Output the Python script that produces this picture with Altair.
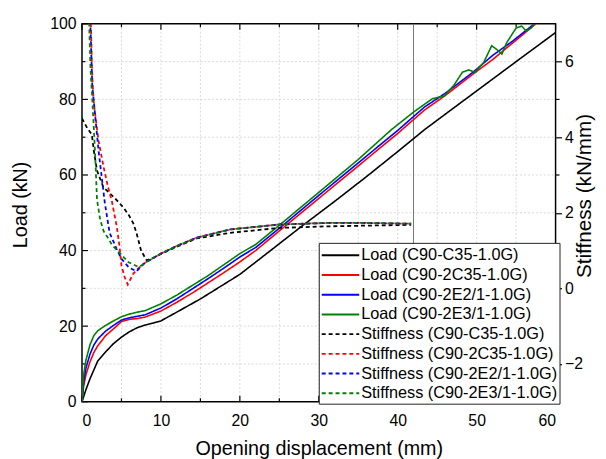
import altair as alt
import pandas as pd

FONT = "Liberation Sans"

# ---------------- data ----------------
series_names = [
    "Load (C90-C35-1.0G)", "Load (C90-2C35-1.0G)", "Load (C90-2E2/1-1.0G)", "Load (C90-2E3/1-1.0G)",
    "Stiffness (C90-C35-1.0G)", "Stiffness (C90-2C35-1.0G)", "Stiffness (C90-2E2/1-1.0G)", "Stiffness (C90-2E3/1-1.0G)",
]
series_colors = ["#000000", "#ff0000", "#0000ff", "#008000"] * 2
series_dash = [[1, 0]] * 4 + [[4, 3]] * 4

# Load curves (kN) vs opening displacement (mm)
load_c35_x = [0, 0.5, 1, 2, 3, 4, 5, 6, 7, 8, 9, 10, 12, 15, 20, 24.5, 28, 32, 36, 40, 43.4, 47, 51, 55, 60]
load_c35_y = [0, 3.2, 6, 10.8, 13.2, 15.4, 17.1, 18.5, 19.6, 20.3, 20.8, 21.4, 23.7, 27.2, 33.7, 41, 46.7, 53, 59.5, 66.2, 72, 77.6, 83.8, 90, 97.7]

load_2c35_x = [0, 0.2, 0.5, 1, 1.5, 2, 3, 4, 5, 6, 7, 8, 10, 12, 14, 16, 18, 20, 22, 25, 30, 35, 40, 43.4, 46, 49.6, 52, 54.6, 57.5]
load_2c35_y = [0, 4, 7.1, 10.5, 13, 14.8, 17.5, 19.3, 21.2, 21.8, 22.0, 22.4, 24.0, 26.3, 28.8, 31.5, 34.2, 37.0, 40.0, 45.2, 53.8, 62.4, 71.0, 77.2, 81.0, 86.8, 90.5, 95.0, 100]

load_2e2_x = [0, 0.2, 0.5, 1, 1.5, 2, 3, 4, 5, 6, 7, 8, 10, 12, 14, 16, 18, 20, 22, 25, 30, 35, 40, 43.4, 46, 49.6, 52, 54.6, 57.3]
load_2e2_y = [0, 5, 8.9, 12.5, 15, 16.6, 18.7, 20.2, 21.6, 22.2, 22.6, 23.0, 24.8, 27.2, 29.9, 32.6, 35.4, 38.3, 40.8, 45.9, 54.6, 63.2, 71.8, 78.0, 81.6, 87.3, 91.6, 95.5, 100]

load_2e3_x = [0, 0.2, 0.5, 1, 1.5, 2, 3, 4, 5, 6, 7, 8, 10, 12, 14, 16, 18, 20, 22, 25, 30, 35, 39.2, 42.1, 44.4, 45.9, 47.1, 48.2, 49.0, 49.8, 50.9, 51.9, 52.5, 53.2, 53.8, 55.0, 55.7, 56.3, 56.9, 57.3]
load_2e3_y = [0, 7, 11, 15, 17.5, 18.8, 20.2, 21.4, 22.5, 23.2, 23.7, 24.1, 25.9, 28.2, 30.8, 33.4, 36.3, 39.2, 41.6, 46.7, 55.4, 64.1, 72.0, 76.8, 80.2, 80.9, 83.7, 87.2, 87.8, 87.2, 89.8, 94.2, 93.3, 92.0, 95.0, 98.9, 99.4, 98.1, 98.9, 100]

# Stiffness curves (kN/mm) vs opening displacement (mm)
stf_c35_x = [0, 0.66, 1.25, 1.5, 1.9, 2.7, 4.2, 5.2, 5.9, 6.5, 6.9, 7.5, 8.2, 9.2, 10, 12, 14.5, 18.8, 25, 31, 36, 41.7]
stf_c35_y = [4.5, 4.24, 4.07, 3.64, 3.12, 2.68, 2.38, 2.15, 1.95, 1.72, 1.47, 0.99, 0.74, 0.82, 0.91, 1.1, 1.32, 1.47, 1.6, 1.64, 1.66, 1.68]

stf_2c35_x = [1.1, 1.3, 1.5, 1.7, 2.1, 2.75, 3.3, 3.8, 4.4, 4.75, 5.0, 5.4, 5.8, 6.5, 7.1, 8, 9, 10, 12, 14.5, 18.8, 25, 31, 36, 41.7]
stf_2c35_y = [7.2, 5.6, 4.9, 4.55, 3.9, 3.2, 2.68, 2.29, 1.64, 1.12, 0.6, 0.3, 0.1, 0.39, 0.52, 0.68, 0.8, 0.92, 1.12, 1.34, 1.56, 1.69, 1.73, 1.73, 1.71]

stf_2e2_x = [0.95, 1.08, 1.3, 1.7, 2.1, 2.5, 2.9, 3.5, 4.4, 5.0, 5.9, 6.9, 7.5, 8, 9, 10, 12, 14.5, 18.8, 25, 31, 36, 41.7]
stf_2e2_y = [8.0, 6.88, 5.37, 4.5, 3.64, 2.94, 2.25, 1.47, 1.04, 0.78, 0.56, 0.45, 0.58, 0.68, 0.8, 0.92, 1.12, 1.34, 1.56, 1.69, 1.73, 1.73, 1.71]

stf_2e3_x = [0.85, 1.08, 1.3, 1.5, 1.7, 1.9, 2.3, 2.75, 3.4, 3.8, 4.8, 5.9, 7.1, 7.5, 8, 9, 10, 12, 14.5, 18.8, 25, 31, 36, 41.7]
stf_2e3_y = [7.4, 5.8, 5.02, 4.24, 3.38, 2.35, 1.82, 1.51, 1.3, 1.15, 0.93, 0.69, 0.57, 0.6, 0.68, 0.8, 0.92, 1.12, 1.34, 1.56, 1.69, 1.73, 1.73, 1.71]

# axes / ticks / grid
x_major = [0, 10, 20, 30, 40, 50, 60]
x_minor = [5, 15, 25, 35, 45, 55]
x_grid = [5, 10, 15, 20, 25, 30, 35, 40, 45, 50, 55]
load_major = [0, 20, 40, 60, 80, 100]
load_minor = [10, 30, 50, 70, 90]
load_grid = [10, 20, 30, 40, 50, 60, 70, 80, 90]
stf_major = [-2, 0, 2, 4, 6]
stf_minor = [-1, 1, 3, 5]
end_line_x = [42]

# ---------------- build tables ----------------
def table(xs, ys, name, ycol):
    return pd.DataFrame({"x": xs, ycol: ys, "series": name, "i": range(len(xs))})

load_df = pd.concat([
    table(load_c35_x, load_c35_y, series_names[0], "load"),
    table(load_2c35_x, load_2c35_y, series_names[1], "load"),
    table(load_2e2_x, load_2e2_y, series_names[2], "load"),
    table(load_2e3_x, load_2e3_y, series_names[3], "load"),
])
stf_df = pd.concat([
    table(stf_c35_x, stf_c35_y, series_names[4], "stf"),
    table(stf_2c35_x, stf_2c35_y, series_names[5], "stf"),
    table(stf_2e2_x, stf_2e2_y, series_names[6], "stf"),
    table(stf_2e3_x, stf_2e3_y, series_names[7], "stf"),
])

W, H = 480, 383
xscale = alt.Scale(domain=[0, 60], nice=False, zero=False)
lscale = alt.Scale(domain=[0, 100], nice=False)
sscale = alt.Scale(domain=[-3, 7], nice=False, zero=False)

legend = alt.Legend(
    orient="none", legendX=240, legendY=222, title=None,
    fillColor="white", strokeColor="#222", padding=2,
    labelFont=FONT, labelFontSize=16.5, labelColor="#000", labelLimit=0,
    symbolType="M-2,0H2", symbolSize=361, symbolStrokeWidth=2, symbolOffset=9.5,
    rowPadding=1, labelOffset=10.5,
)
color = alt.Color("series:N", scale=alt.Scale(domain=series_names, range=series_colors), legend=legend)
dash = alt.StrokeDash("series:N", scale=alt.Scale(domain=series_names, range=series_dash), legend=legend)

x_axis = alt.Axis(
    values=x_major, tickSize=0, labelPadding=11, grid=False, domain=False,
    title="Opening displacement (mm)", titleX=240, titleY=54, titleBaseline="alphabetic",
    titleAnchor="middle", titleAlign="center")

def xf():
    return alt.X("x:Q", scale=xscale, axis=x_axis)

grid_color = "#cfcfcf"
grid_x = alt.Chart(pd.DataFrame({"x": x_grid})).mark_rule(color=grid_color, strokeDash=[2, 2], strokeWidth=0.8).encode(
    x=xf(), y=alt.value(0), y2=alt.value(H))
grid_y = alt.Chart(pd.DataFrame({"v": load_grid})).mark_rule(color=grid_color, strokeDash=[2, 2], strokeWidth=0.8).encode(
    y=alt.Y("v:Q", scale=lscale, axis=None), x=alt.value(0), x2=alt.value(W))
end_line = alt.Chart(pd.DataFrame({"x": end_line_x})).mark_rule(color="#777", strokeWidth=1).encode(
    x=xf(), y=alt.value(0), y2=alt.value(H))

def xticks(vals, length):
    d = pd.DataFrame({"x": vals})
    bottom = alt.Chart(d).mark_rule(color="black", strokeWidth=1.2).encode(x=xf(), y=alt.value(H), y2=alt.value(H - length))
    top = alt.Chart(d).mark_rule(color="black", strokeWidth=1.2).encode(x=xf(), y=alt.value(0), y2=alt.value(length))
    return [bottom, top]

def lticks(vals, length):
    d = pd.DataFrame({"v": vals})
    return alt.Chart(d).mark_rule(color="black", strokeWidth=1.2).encode(
        y=alt.Y("v:Q", scale=lscale, axis=None), x=alt.value(0), x2=alt.value(length))

load_lines = alt.Chart(load_df).mark_line(strokeWidth=1.6, clip=True).encode(
    x=xf(),
    y=alt.Y("load:Q", scale=lscale, axis=alt.Axis(
        orient="left", values=load_major, tickSize=0, labelPadding=6, grid=False, domain=False,
        title="Load (kN)", titleX=-62, titleY=183, titleAngle=270, titleAlign="center",
        titleBaseline="middle")),
    color=color, strokeDash=dash, order="i:Q",
)

stf_lines = alt.Chart(stf_df).mark_line(strokeWidth=1.8, clip=True).encode(
    x=xf(),
    y=alt.Y("stf:Q", scale=sscale, axis=alt.Axis(
        orient="right", values=stf_major, tickSize=6, tickWidth=1.2, tickColor="black",
        labelPadding=3, grid=False, domain=False,
        title="Stiffness (kN/mm)", titleFontSize=21, titleX=29, titleY=174, titleAngle=270,
        titleAlign="center", titleBaseline="middle")),
    color=color, strokeDash=dash, order="i:Q",
)
stf_minor_ticks = alt.Chart(pd.DataFrame({"v": stf_minor})).mark_rule(color="black", strokeWidth=1.2, clip=False).encode(
    y=alt.Y("v:Q", scale=sscale, axis=None), x=alt.value(W), x2=alt.value(W + 4))

chart = alt.layer(
    grid_x, grid_y, end_line,
    *xticks(x_major, 6), *xticks(x_minor, 3.5),
    lticks(load_major, 6), lticks(load_minor, 3.5),
    load_lines, stf_lines, stf_minor_ticks,
).resolve_scale(y="independent").properties(
    width=W, height=H,
    background="white",
    autosize=alt.AutoSizeParams(type="none"),
    padding={"left": 75, "top": 13, "right": 43, "bottom": 55},
).configure_view(stroke="black", strokeWidth=1.5).configure_axis(
    labelFont=FONT, labelFontSize=16, labelColor="black",
    titleFont=FONT, titleFontSize=20, titleFontWeight="normal", titleColor="black",
)

chart.save("out.html", embed_options={"renderer": "svg", "actions": False})
